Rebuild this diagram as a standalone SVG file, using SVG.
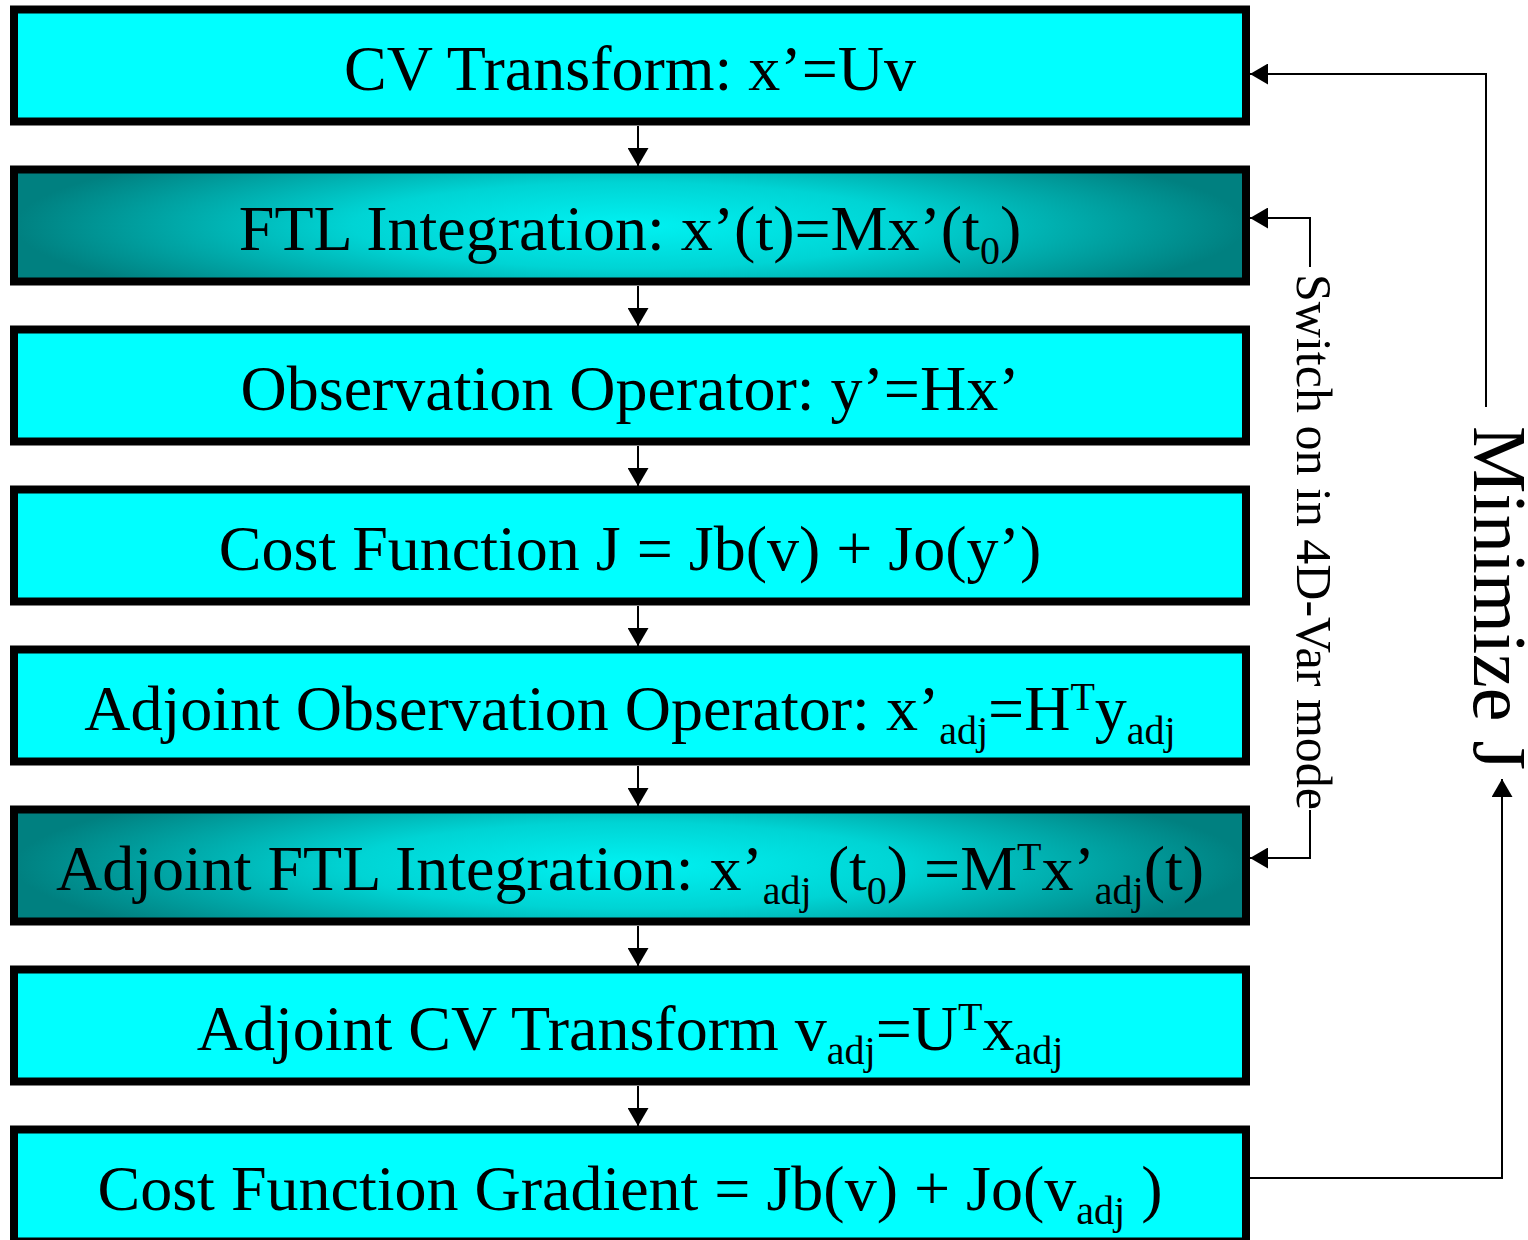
<svg xmlns="http://www.w3.org/2000/svg" width="1528" height="1240" viewBox="0 0 1528 1240">
<defs>
<radialGradient id="tealGrad" cx="0.5" cy="0.5" r="0.5" gradientTransform="translate(0.5 0.5) scale(1 1.7) translate(-0.5 -0.5)">
<stop offset="0" stop-color="#00F2F2"/>
<stop offset="0.45" stop-color="#00D4D4"/>
<stop offset="1" stop-color="#008080"/>
</radialGradient>
<marker id="arrow" markerUnits="userSpaceOnUse" viewBox="0 0 18 21" refX="18" refY="10.5" markerWidth="18" markerHeight="21" orient="auto">
<path d="M0,0 L18,10.5 L0,21 Z" fill="#000"/>
</marker>
<style>
.box{fill:#00FFFF;stroke:#000;stroke-width:8}
.box.dark{fill:url(#tealGrad)}
.lbl{font-family:"Liberation Serif","Times New Roman",serif;font-size:64px;fill:#000;text-anchor:middle}
.sm{font-size:40px}
.side{font-family:"Liberation Serif","Times New Roman",serif;fill:#000;text-anchor:middle}
.conn{fill:none;stroke:#000;stroke-width:2;marker-end:url(#arrow)}
</style>
</defs>
<rect width="1528" height="1240" fill="#fff"/>
<g id="connectors">
<path class="conn" d="M638,126 V166"/>
<path class="conn" d="M638,286 V326"/>
<path class="conn" d="M638,446 V486"/>
<path class="conn" d="M638,606 V646"/>
<path class="conn" d="M638,766 V806"/>
<path class="conn" d="M638,926 V966"/>
<path class="conn" d="M638,1086 V1126"/>
<path class="conn" d="M1486,407 V74 H1250"/>
<path class="conn" d="M1250,1178 H1502 V779"/>
<path class="conn" d="M1310,267 V218 H1250"/>
<path class="conn" d="M1310,810 V858 H1250"/>
<text class="side" font-size="50" transform="translate(1297 542) rotate(90)">Switch on in 4D-Var mode</text>
<text class="side" font-size="76" transform="translate(1474 598) rotate(90)">Minimize J</text>
</g>
<g id="node1">
<rect class="box" x="14" y="9.5" width="1232" height="112"/>
<text class="lbl" x="630" y="90">CV Transform: x’=Uv</text>
</g>
<g id="node2">
<rect class="box dark" x="14" y="169.5" width="1232" height="112"/>
<text class="lbl" x="630" y="250">FTL Integration: x’(t)=Mx’(t<tspan class="sm" dy="14">0</tspan><tspan dy="-14">)</tspan></text>
</g>
<g id="node3">
<rect class="box" x="14" y="329.5" width="1232" height="112"/>
<text class="lbl" x="630" y="410">Observation Operator: y’=Hx’</text>
</g>
<g id="node4">
<rect class="box" x="14" y="489.5" width="1232" height="112"/>
<text class="lbl" x="630" y="570">Cost Function J = Jb(v) + Jo(y’)</text>
</g>
<g id="node5">
<rect class="box" x="14" y="649.5" width="1232" height="112"/>
<text class="lbl" x="630" y="730">Adjoint Observation Operator: x’<tspan class="sm" dy="14">adj</tspan><tspan dy="-14">=H</tspan><tspan class="sm" dy="-20">T</tspan><tspan dy="20">y</tspan><tspan class="sm" dy="14">adj</tspan></text>
</g>
<g id="node6">
<rect class="box dark" x="14" y="809.5" width="1232" height="112"/>
<text class="lbl" x="630" y="890">Adjoint FTL Integration: x’<tspan class="sm" dy="14">adj</tspan><tspan dy="-14"> (t</tspan><tspan class="sm" dy="14">0</tspan><tspan dy="-14">) =M</tspan><tspan class="sm" dy="-20">T</tspan><tspan dy="20">x’</tspan><tspan class="sm" dy="14">adj</tspan><tspan dy="-14">(t)</tspan></text>
</g>
<g id="node7">
<rect class="box" x="14" y="969.5" width="1232" height="112"/>
<text class="lbl" x="630" y="1050">Adjoint CV Transform v<tspan class="sm" dy="14">adj</tspan><tspan dy="-14">=U</tspan><tspan class="sm" dy="-20">T</tspan><tspan dy="20">x</tspan><tspan class="sm" dy="14">adj</tspan></text>
</g>
<g id="node8">
<rect class="box" x="14" y="1129.5" width="1232" height="112"/>
<text class="lbl" x="630" y="1210">Cost Function Gradient = Jb(v) + Jo(v<tspan class="sm" dy="14">adj</tspan><tspan dy="-14"> )</tspan></text>
</g>
</svg>
